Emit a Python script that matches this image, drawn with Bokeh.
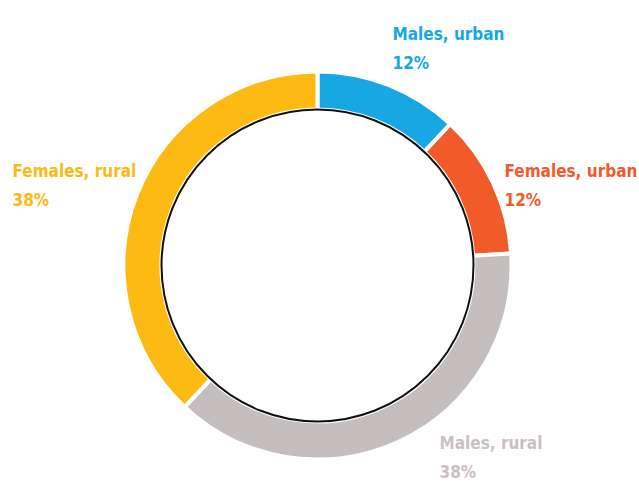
import numpy as np
from bokeh.plotting import figure
from bokeh.models import ColumnDataSource
from bokeh.core.properties import value
from bokeh.embed import file_html
from bokeh.resources import INLINE

categories = ["Males, urban", "Females, urban", "Males, rural", "Females, rural"]
shares = [12, 12, 38, 38]
colors = ["#17A8E3", "#F15A29", "#C5BEBE", "#FDBA12"]
text_colors = ["#17A8E3", "#F15A29", "#C9C1C1", "#FDBA12"]

W, H = 639, 482
p = figure(width=W, height=H, output_backend="svg", toolbar_location=None,
           x_range=(0, W), y_range=(0, H), min_border=0)
p.axis.visible = False
p.grid.visible = False
p.outline_line_color = None
p.background_fill_color = "white"
p.border_fill_color = "white"

def py(y):
    return H - y

cx, cy = 317, py(265)
r_out, r_in = 194, 156

vals = np.array(shares, dtype=float)
frac = vals / vals.sum()
ends = np.pi / 2 - 2 * np.pi * np.concatenate([[0], np.cumsum(frac)[:-1]])
starts = ends - 2 * np.pi * frac

src = ColumnDataSource(dict(start=starts, end=ends, color=colors))
p.annular_wedge(x=cx, y=cy, inner_radius=r_in, outer_radius=r_out,
                start_angle="start", end_angle="end", fill_color="color",
                line_color="white", line_width=4, source=src)
p.circle(x=cx, y=cy, radius=r_in, fill_color="white", line_color="#111111", line_width=2)

lx = [392, 504, 439, 12]
ly = [33, 170, 442, 170]
lsrc = ColumnDataSource(dict(
    x=lx, y1=[py(v) for v in ly], y2=[py(v + 29) for v in ly],
    name=categories, pct=[f"{s}%" for s in shares], color=text_colors))
font = value("DejaVu Sans Condensed, Roboto")
p.text(x="x", y="y1", text="name", text_color="color", source=lsrc,
       text_font=font, text_font_size="17px", text_font_style="bold",
       text_baseline="alphabetic", text_align="left")
p.text(x="x", y="y2", text="pct", text_color="color", source=lsrc,
       text_font=font, text_font_size="17px", text_font_style="bold",
       text_baseline="alphabetic", text_align="left")

open("out.html", "w").write(file_html(p, INLINE))
